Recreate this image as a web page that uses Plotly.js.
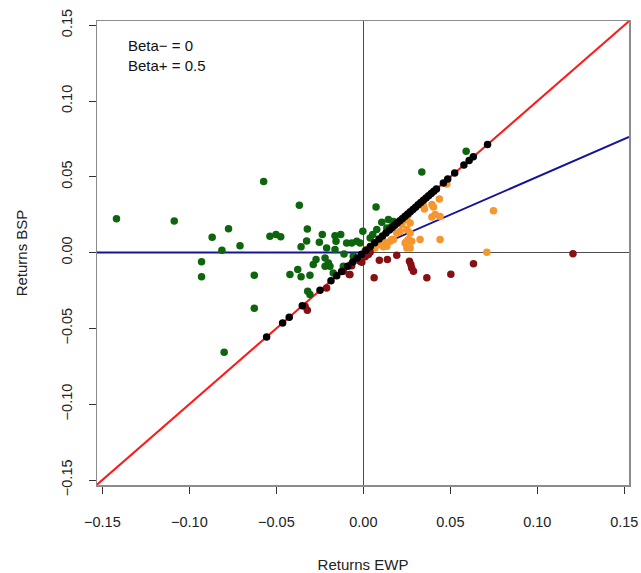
<!DOCTYPE html>
<html>
<head>
<meta charset="utf-8">
<script src="https://cdn.plot.ly/plotly-3.0.1.min.js"></script>
<style>html,body{margin:0;padding:0;background:#fff;}#chart{width:641px;height:573px;}</style>
</head>
<body>
<div id="chart"></div>
<script>
// ---- data ----
const betaMinus = 0;
const betaPlus = 0.5;

const greenX = [-0.1419,-0.1087,-0.0930,-0.0930,-0.0869,-0.0813,-0.0800,-0.0775,-0.0709,-0.0627,-0.0627,-0.0573,-0.0537,-0.0502,-0.0475,-0.0422,-0.0377,-0.0368,-0.0358,-0.0358,-0.0326,-0.0322,-0.0320,-0.0307,-0.0307,-0.0288,-0.0272,-0.0253,-0.0236,-0.0220,-0.0220,-0.0211,-0.0201,-0.0192,-0.0173,-0.0163,-0.0163,-0.0157,-0.0130,-0.0115,-0.0111,-0.0096,-0.0067,-0.0058,-0.0038,-0.0019,-0.0003,0.0039,0.0054,0.0073,0.0077,0.0106,0.0135,0.0144,0.0163,0.0173,0.0336,0.0591];
const greenY = [0.0224,0.0209,-0.0061,-0.0160,0.0101,0.0015,-0.0658,0.0158,0.0046,-0.0150,-0.0367,0.0470,0.0108,0.0119,0.0104,-0.0145,-0.0112,0.0312,0.0038,-0.0160,0.0077,0.0156,-0.0255,-0.0150,-0.0277,-0.0079,-0.0046,0.0068,0.0119,-0.0035,-0.0090,0.0031,-0.0068,-0.0090,-0.0134,0.0112,0.0020,0.0075,0.0119,-0.0090,-0.0009,0.0064,0.0064,-0.0024,0.0075,0.0064,0.0141,0.0097,0.0119,0.0301,0.0152,0.0200,0.0163,0.0218,0.0173,0.0206,0.0532,0.0668];

const orangeX = [0.0010,0.0020,0.0048,0.0067,0.0096,0.0115,0.0115,0.0135,0.0154,0.0163,0.0173,0.0192,0.0211,0.0211,0.0221,0.0221,0.0230,0.0240,0.0240,0.0250,0.0250,0.0250,0.0250,0.0259,0.0259,0.0269,0.0269,0.0269,0.0278,0.0326,0.0345,0.0351,0.0394,0.0394,0.0403,0.0413,0.0437,0.0441,0.0441,0.0480,0.0710,0.0748];
const orangeY = [0.0015,0.0020,0.0042,0.0031,0.0053,0.0038,0.0075,0.0042,0.0075,0.0086,0.0086,0.0130,0.0140,0.0206,0.0185,0.0206,0.0222,0.0218,0.0064,0.0152,0.0218,0.0031,0.0075,0.0251,0.0086,0.0196,0.0130,0.0031,0.0075,0.0086,0.0310,0.0288,0.0317,0.0235,0.0301,0.0251,0.0354,0.0239,0.0086,0.0453,0.0002,0.0277];

const redX = [0.1205,0.0633,0.0503,0.0365,0.0265,0.0273,0.0278,0.0288,0.0192,0.0138,0.0092,0.0062,0.0029,0.0039,0.0010,-0.0009,-0.0019,-0.0067,-0.0071,-0.0077,-0.0081,-0.0115,-0.0211,-0.0335,-0.0322];
const redY = [-0.0007,-0.0073,-0.0143,-0.0165,-0.0057,-0.0079,-0.0101,-0.0123,-0.0018,-0.0046,-0.0051,-0.0165,-0.0013,0.0002,-0.0028,-0.0064,-0.0057,-0.0086,-0.0079,-0.0145,-0.0145,-0.0123,-0.0233,-0.0354,-0.0381];

const blackX = [-0.0556,-0.0464,-0.0426,-0.0351,-0.0249,-0.0186,-0.0153,-0.0125,-0.0090,-0.0060,-0.0035,-0.0010,0.0015,0.0040,0.0065,0.0090,0.0110,0.0130,0.0150,0.0165,0.0180,0.0195,0.0210,0.0225,0.0240,0.0255,0.0270,0.0285,0.0300,0.0315,0.0330,0.0345,0.0360,0.0375,0.0390,0.0405,0.0420,0.0460,0.0485,0.0525,0.0578,0.0608,0.0632,0.0714];
const blackY = [-0.0556,-0.0464,-0.0426,-0.0351,-0.0249,-0.0186,-0.0153,-0.0125,-0.0090,-0.0060,-0.0035,-0.0010,0.0015,0.0040,0.0065,0.0090,0.0110,0.0130,0.0150,0.0165,0.0180,0.0195,0.0210,0.0225,0.0240,0.0255,0.0270,0.0285,0.0300,0.0315,0.0330,0.0345,0.0360,0.0375,0.0390,0.0405,0.0420,0.0460,0.0485,0.0525,0.0578,0.0608,0.0632,0.0714];

const tickVals = [-0.15,-0.10,-0.05,0.00,0.05,0.10,0.15];
const tickText = ["\u22120.15","\u22120.10","\u22120.05","0.00","0.05","0.10","0.15"];
const xRange = [-0.1531, 0.1527];
const yRange = [-0.1533, 0.1528];

// ---- model lines ----
const lineX = [xRange[0], 0, xRange[1]];
const identY = lineX.map(v => v);
const betaY = lineX.map(v => v < 0 ? betaMinus * v : betaPlus * v);

const font = "Liberation Sans, Arial, Helvetica, sans-serif";
const mk = (c) => ({color: c, size: 7.5, line: {width: 0}});

const traces = [
  {x: lineX, y: identY, mode: 'lines', line: {color: '#ff1a1a', width: 2}, hoverinfo: 'skip'},
  {x: lineX, y: betaY, mode: 'lines', line: {color: '#14149a', width: 2}, hoverinfo: 'skip'},
  {x: greenX, y: greenY, mode: 'markers', marker: mk('#0d650d')},
  {x: orangeX, y: orangeY, mode: 'markers', marker: mk('#f5962f')},
  {x: redX, y: redY, mode: 'markers', marker: mk('#861013')},
  {x: blackX, y: blackY, mode: 'markers', marker: mk('#000000')}
];

const axisCommon = {
  tickmode: 'array', tickvals: tickVals, ticktext: tickText,
  ticks: 'outside', ticklen: 7, tickwidth: 1, tickcolor: '#333',
  showgrid: false, zeroline: true, zerolinecolor: '#4d4d4d', zerolinewidth: 1.5,
  showline: true, mirror: true, linecolor: '#8c8c8c', linewidth: 1.5,
  tickfont: {family: font, size: 14.5, color: '#222'},
  fixedrange: true
};

const layout = {
  width: 641, height: 573,
  margin: {l: 97, r: 12, t: 21, b: 88, pad: 0},
  paper_bgcolor: '#fff', plot_bgcolor: '#fff',
  showlegend: false,
  font: {family: font, color: '#222'},
  xaxis: Object.assign({}, axisCommon, {
    range: xRange, ticklabelstandoff: 16,
    title: {text: 'Returns EWP', font: {family: font, size: 15, color: '#222'}, standoff: 32}
  }),
  yaxis: Object.assign({}, axisCommon, {
    range: yRange, tickangle: -90, ticklabelstandoff: 11,
    title: {text: 'Returns BSP', font: {family: font, size: 15, color: '#222'}, standoff: 27}
  }),
  annotations: [
    {xref: 'paper', yref: 'paper', x: 0.054, y: 0.948, xanchor: 'left', yanchor: 'middle', showarrow: false,
     text: 'Beta\u2212 = 0', font: {family: font, size: 15, color: '#111'}},
    {xref: 'paper', yref: 'paper', x: 0.054, y: 0.905, xanchor: 'left', yanchor: 'middle', showarrow: false,
     text: 'Beta+ = 0.5', font: {family: font, size: 15, color: '#111'}}
  ]
};

Plotly.newPlot('chart', traces, layout, {staticPlot: true, displayModeBar: false});
</script>
</body>
</html>
